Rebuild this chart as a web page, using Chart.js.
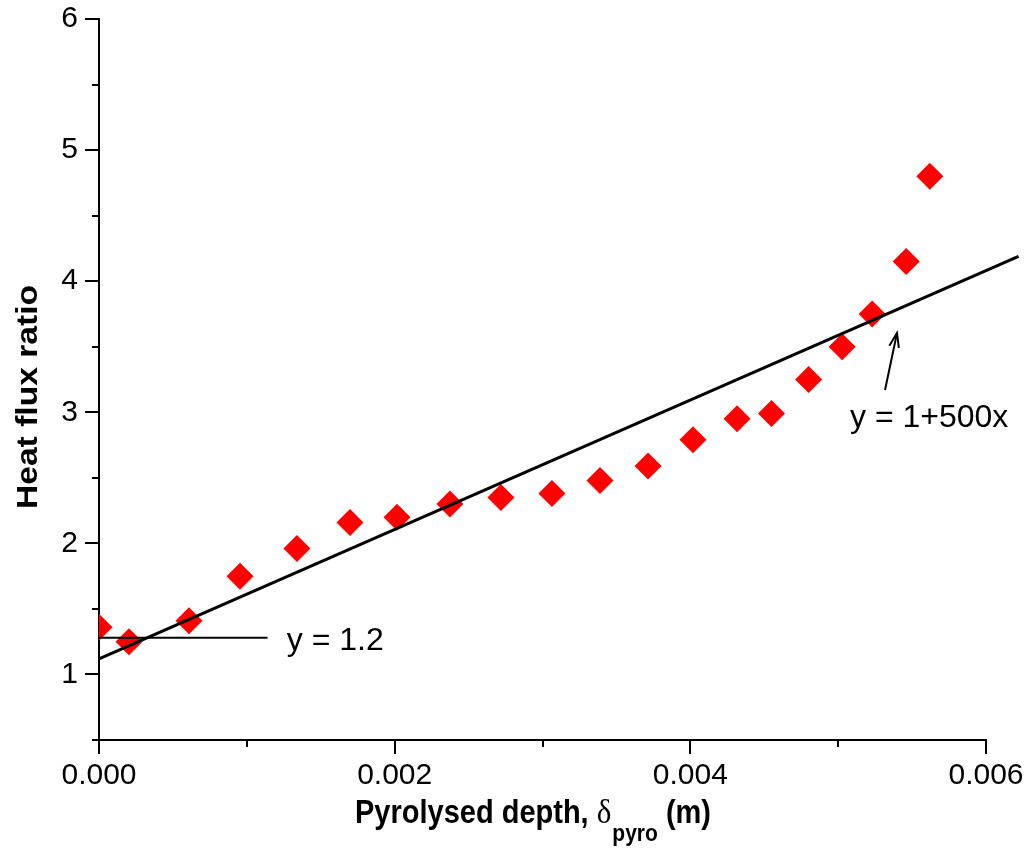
<!DOCTYPE html>
<html lang="en">
<head>
<meta charset="UTF-8">
<title>Heat flux ratio vs pyrolysed depth</title>
<script src="https://cdn.jsdelivr.net/npm/chart.js"></script>
<style>
  body { margin: 0; background: #fff; }
  canvas { display: block; }
</style>
</head>
<body>
<canvas id="fluxChart" width="1025" height="857"></canvas>
<script>
// measured points: pyrolysed depth (m) and heat flux ratio
const depth = [0, 0.000203, 0.000609, 0.000954, 0.001339, 0.001698, 0.002016, 0.002374, 0.002719, 0.003064,
               0.003389, 0.003714, 0.004018, 0.004316, 0.004549, 0.0048, 0.005027, 0.00523, 0.00546, 0.00562];
const ratio = [1.36, 1.25, 1.41, 1.75, 1.96, 2.16, 2.2, 2.3, 2.35, 2.38,
               2.48, 2.59, 2.79, 2.95, 2.99, 3.25, 3.5, 3.75, 4.15, 4.8];

// fitted line y = 1+500x, end points as drawn
const fitX = [0, 0.00622];
const fitY = [1.118, 4.19];

// short "y = 1.2" line
const refX = [0, 0.00114];
const refY = [1.28, 1.28];

// arrow to the fitted line (tail, head)
const arrowX = [0.005317, 0.005398];
const arrowY = [3.17, 3.605];

// annotation labels
const noteText = ['y = 1.2', 'y = 1+500x'];
const noteX = [0.00127, 0.00508];
const noteY = [1.187, 2.888];

// axis ticks, empty label = minor tick
const xTickValues = [0, 0.001, 0.002, 0.003, 0.004, 0.005, 0.006];
const xTickLabels = ['0.000', '', '0.002', '', '0.004', '', '0.006'];
const yTickValues = [0.5, 1, 1.5, 2, 2.5, 3, 3.5, 4, 4.5, 5, 5.5, 6];
const yTickLabels = ['', '1', '', '2', '', '3', '', '4', '', '5', '', '6'];

const FONT = "'Liberation Sans', Arial, sans-serif";

function pts(xs, ys) {
    return xs.map((v, i) => ({ x: v, y: ys[i] }));
}

// tick marks, axis titles, arrow and notes
const extras = {
    id: 'extras',
    afterDraw(chart) {
        const { ctx, chartArea: a, scales: { x, y } } = chart;
        ctx.save();
        ctx.strokeStyle = '#000';
        ctx.fillStyle = '#000';
        ctx.lineWidth = 2;

        xTickValues.forEach((v, i) => {
            const px = Math.round(x.getPixelForValue(v));
            const len = xTickLabels[i] ? 14 : 7;
            ctx.beginPath();
            ctx.moveTo(px, a.bottom);
            ctx.lineTo(px, a.bottom + len);
            ctx.stroke();
        });
        yTickValues.forEach((v, i) => {
            const py = Math.round(y.getPixelForValue(v));
            const len = yTickLabels[i] ? 14 : 7;
            ctx.beginPath();
            ctx.moveTo(a.left, py);
            ctx.lineTo(a.left - len, py);
            ctx.stroke();
        });

        // arrow
        const tx = x.getPixelForValue(arrowX[0]), ty = y.getPixelForValue(arrowY[0]);
        const hx = x.getPixelForValue(arrowX[1]), hy = y.getPixelForValue(arrowY[1]);
        ctx.beginPath();
        ctx.moveTo(tx, ty);
        ctx.lineTo(hx, hy);
        ctx.stroke();
        const ang = Math.atan2(hy - ty, hx - tx);
        ctx.beginPath();
        ctx.moveTo(hx - 15 * Math.cos(ang - 0.33), hy - 15 * Math.sin(ang - 0.33));
        ctx.lineTo(hx, hy);
        ctx.lineTo(hx - 15 * Math.cos(ang + 0.33), hy - 15 * Math.sin(ang + 0.33));
        ctx.stroke();

        // notes
        ctx.font = '32px ' + FONT;
        ctx.textBaseline = 'alphabetic';
        ctx.textAlign = 'left';
        noteText.forEach((t, i) => {
            ctx.fillText(t, x.getPixelForValue(noteX[i]), y.getPixelForValue(noteY[i]));
        });

        // y title
        ctx.save();
        ctx.translate(37, 397);
        ctx.scale(1, 1.12);
        ctx.rotate(-Math.PI / 2);
        ctx.textAlign = 'center';
        ctx.font = 'bold 30px ' + FONT;
        ctx.fillText('Heat flux ratio', 0, 0);
        ctx.restore();

        // x title with subscript
        ctx.save();
        ctx.translate(0, 823);
        ctx.scale(1, 1.12);
        let cx = 355;
        ctx.font = 'bold 29px ' + FONT;
        ctx.fillText('Pyrolysed depth, ', cx, 0);
        cx += ctx.measureText('Pyrolysed depth, ').width;
        ctx.font = "31px 'Liberation Serif', serif";
        ctx.fillText('δ', cx, 0);
        cx += ctx.measureText('δ').width + 1;
        ctx.font = 'bold 21px ' + FONT;
        ctx.fillText('pyro', cx, 16);
        cx += ctx.measureText('pyro').width;
        ctx.font = 'bold 29px ' + FONT;
        ctx.fillText(' (m)', cx, 0);
        ctx.restore();

        ctx.restore();
    }
};

const ctx = document.getElementById('fluxChart').getContext('2d');
const chart = new Chart(ctx, {
    type: 'scatter',
    data: {
        datasets: [
            {
                label: 'y = 1+500x',
                data: pts(fitX, fitY),
                showLine: true,
                borderColor: '#000',
                borderWidth: 3,
                pointRadius: 0,
                clip: false
            },
            {
                label: 'y = 1.2',
                data: pts(refX, refY),
                showLine: true,
                borderColor: '#000',
                borderWidth: 2,
                pointRadius: 0
            },
            {
                label: 'Heat flux ratio',
                data: pts(depth, ratio),
                pointStyle: 'rectRot',
                pointRadius: 13.5,
                backgroundColor: '#ff0000',
                borderWidth: 0,
                clip: 0
            }
        ]
    },
    options: {
        responsive: false,
        devicePixelRatio: 1,
        animation: false,
        events: [],
        layout: { padding: { top: 19, right: 39, left: 0, bottom: 0 } },
        plugins: {
            legend: { display: false },
            tooltip: { enabled: false }
        },
        scales: {
            x: {
                type: 'linear',
                min: 0,
                max: 0.006,
                afterBuildTicks: s => { s.ticks = xTickValues.map(v => ({ value: v })); },
                afterFit: s => { s.height = 117; s.paddingLeft = 0; s.paddingRight = 0; },
                ticks: {
                    callback: (v, i) => xTickLabels[i],
                    font: { family: FONT, size: 30 },
                    color: '#000',
                    padding: 4,
                    maxRotation: 0,
                    autoSkip: false
                },
                grid: { display: false, drawTicks: true, tickLength: 14 },
                border: { display: true, color: '#000', width: 2 }
            },
            y: {
                type: 'linear',
                min: 0.5,
                max: 6,
                afterBuildTicks: s => { s.ticks = yTickValues.map(v => ({ value: v })); },
                afterFit: s => { s.width = 99; s.paddingTop = 0; s.paddingBottom = 0; },
                ticks: {
                    callback: (v, i) => yTickLabels[i],
                    font: { family: FONT, size: 30 },
                    color: '#000',
                    padding: 7,
                    autoSkip: false
                },
                grid: { display: false, drawTicks: true, tickLength: 14 },
                border: { display: true, color: '#000', width: 2 }
            }
        }
    },
    plugins: [extras]
});
</script>
</body>
</html>
